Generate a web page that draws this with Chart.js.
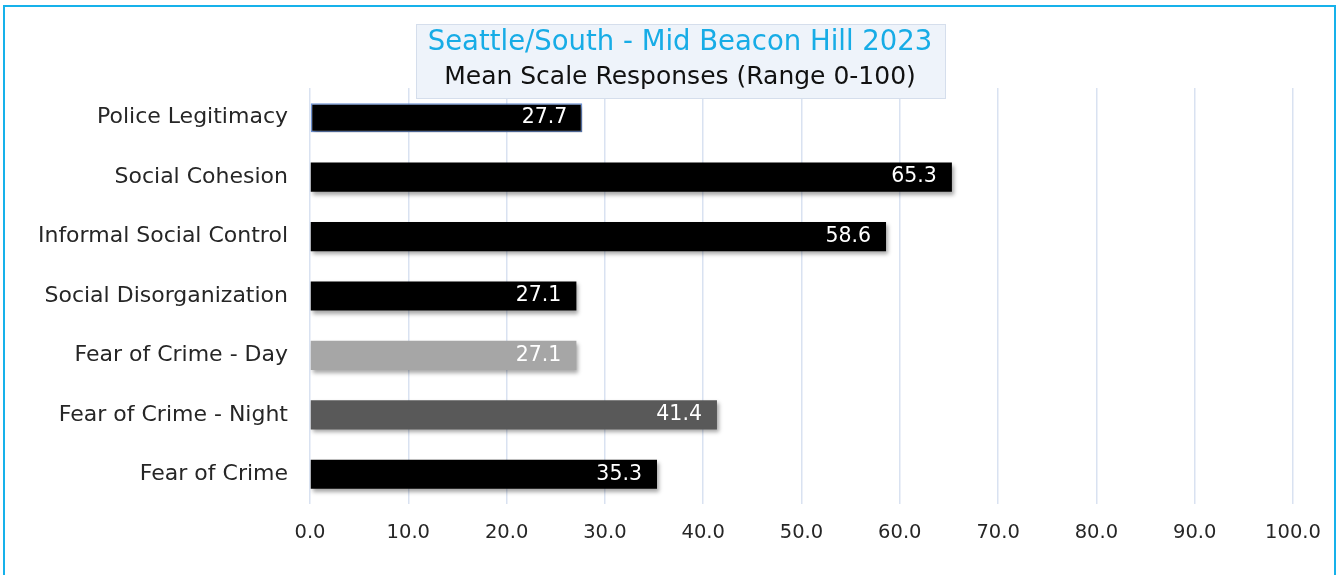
<!DOCTYPE html>
<html>
<head>
<meta charset="utf-8">
<script src="https://cdn.jsdelivr.net/npm/chart.js@4.4.0/dist/chart.umd.min.js"></script>
<style>
  html, body { margin: 0; padding: 0; background: #fff; }
  #wrap { width: 1338px; height: 575px; position: relative; }
</style>
</head>
<body>
<div id="wrap"><canvas id="chart" width="1338" height="575"></canvas></div>
<script>
const categories = [
  "Police Legitimacy",
  "Social Cohesion",
  "Informal Social Control",
  "Social Disorganization",
  "Fear of Crime - Day",
  "Fear of Crime - Night",
  "Fear of Crime"
];
const values = [27.7, 65.3, 58.6, 27.1, 27.1, 41.4, 35.3];
const barColors = ["#000000", "#000000", "#000000", "#000000", "#a6a6a6", "#595959", "#000000"];
const barBorders = [1.5, 0, 0, 0, 0, 0, 0];
const titleLines = ["Seattle/South - Mid Beacon Hill 2023", "Mean Scale Responses (Range 0-100)"];

const FONT = "'DejaVu Sans', 'Noto Sans', sans-serif";

// 테두리 + 제목 상자
const framePlugin = {
  id: "frame",
  afterDraw(chart) {
    const ctx = chart.ctx;
    ctx.save();
    ctx.strokeStyle = "#16b1ea";
    ctx.lineWidth = 2;
    ctx.strokeRect(4, 6, 1331, 600);

    // 제목 상자
    ctx.fillStyle = "#eef3fa";
    ctx.fillRect(416, 24, 529, 74);
    ctx.strokeStyle = "#d5deec";
    ctx.lineWidth = 1;
    ctx.strokeRect(416.5, 24.5, 529, 74);

    ctx.textAlign = "center";
    ctx.textBaseline = "middle";
    ctx.fillStyle = "#17ace6";
    ctx.font = "27.5px " + FONT;
    ctx.fillText(titleLines[0], 680, 43);
    ctx.fillStyle = "#111111";
    ctx.font = "25px " + FONT;
    ctx.fillText(titleLines[1], 680, 77);
    ctx.restore();
  }
};

// 막대 그림자
const shadowPlugin = {
  id: "shadow",
  beforeDatasetsDraw(chart) {
    const ctx = chart.ctx;
    ctx.save();
    ctx.shadowColor = "rgba(0,0,0,0.35)";
    ctx.shadowBlur = 4;
    ctx.shadowOffsetX = 2;
    ctx.shadowOffsetY = 3;
  },
  afterDatasetsDraw(chart) {
    chart.ctx.restore();
  }
};

// 값 라벨
const labelPlugin = {
  id: "valueLabels",
  afterDatasetsDraw(chart) {
    const ctx = chart.ctx;
    const meta = chart.getDatasetMeta(0);
    ctx.save();
    ctx.font = "20.5px " + FONT;
    ctx.fillStyle = "#ffffff";
    ctx.textAlign = "right";
    ctx.textBaseline = "middle";
    meta.data.forEach((bar, i) => {
      ctx.fillText(values[i].toFixed(1), bar.x - 15, bar.y);
    });
    ctx.restore();
  }
};

new Chart(document.getElementById("chart").getContext("2d"), {
  type: "bar",
  data: {
    labels: categories,
    datasets: [
      {
        data: values,
        backgroundColor: barColors,
        borderColor: "#6f93d6",
        borderWidth: barBorders,
        borderSkipped: false,
        categoryPercentage: 1,
        barPercentage: 0.49
      }
    ]
  },
  options: {
    indexAxis: "y",
    responsive: false,
    animation: false,
    events: [],
    layout: { padding: { left: 6, right: 45, top: 88, bottom: 0 } },
    plugins: {
      legend: { display: false },
      title: { display: false },
      tooltip: { enabled: false }
    },
    scales: {
      x: {
        min: 0,
        max: 100,
        grid: { color: "#d9e2f1", lineWidth: 1.5, drawTicks: false },
        border: { display: false },
        ticks: {
          stepSize: 10,
          padding: 17,
          color: "#262626",
          font: { family: FONT, size: 19.5 },
          callback: (v) => Number(v).toFixed(1)
        },
        afterFit: (s) => { s.height = 71; }
      },
      y: {
        grid: { display: false, drawTicks: false },
        border: { display: false },
        ticks: {
          padding: 22,
          color: "#262626",
          font: { family: FONT, size: 22 }
        },
        afterFit: (s) => { s.width = 304; }
      }
    }
  },
  plugins: [shadowPlugin, labelPlugin, framePlugin]
});
</script>
</body>
</html>
